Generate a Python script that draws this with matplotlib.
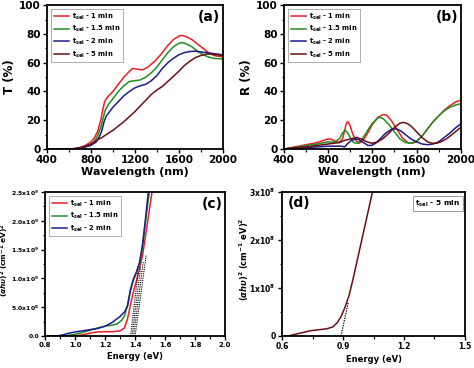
import matplotlib
matplotlib.use("Agg")
import matplotlib.pyplot as plt
from matplotlib.ticker import MultipleLocator, FuncFormatter

plt.rcParams['font.family'] = ['DejaVu Sans']
plt.rcParams['font.weight'] = 'bold'

labels = [r'$\mathbf{t_{sel}}$ - 1 min', r'$\mathbf{t_{sel}}$ - 1.5 min',
          r'$\mathbf{t_{sel}}$ - 2 min', r'$\mathbf{t_{sel}}$ - 5 min']
colors = ['#ee1d23', '#1f8f22', '#1b1b8a', '#6a0f16']

# ---------------- (a) Transmittance ----------------
ta_wl_1 = [400, 600, 650, 700, 750, 800, 830, 860, 890, 910, 925, 950, 1000, 1050, 1100, 1150, 1180, 1220,
           1270, 1320, 1380, 1440, 1500, 1550, 1600, 1630, 1670, 1720, 1770, 1820, 1870, 1920, 1960, 2000]
ta_T_1 = [0, 0, 0.3, 1, 2.5, 5, 7.5, 12, 20, 28, 33, 36, 40, 45, 50, 54, 56, 55.5,
          55, 57, 61, 66, 72, 76, 78.5, 79, 78, 76, 73, 70, 67, 65, 64.5, 64]
ta_wl_15 = [400, 600, 700, 750, 800, 830, 860, 890, 910, 930, 960, 1000, 1050, 1100, 1150, 1200, 1250, 1300,
            1350, 1400, 1450, 1500, 1550, 1600, 1630, 1670, 1720, 1770, 1820, 1870, 1920, 1960, 2000]
ta_T_15 = [0, 0, 0.5, 1.5, 3, 5, 9, 15, 21, 27, 31, 35, 40, 44, 47, 47.5, 48, 50,
           53, 57, 62, 67, 71, 73.5, 74, 73, 71, 68, 65.5, 64, 63, 62.8, 62.5]
ta_wl_2 = [400, 600, 700, 750, 800, 850, 880, 900, 920, 940, 970, 1000, 1050, 1100, 1150, 1200, 1250, 1300,
           1350, 1400, 1450, 1500, 1550, 1600, 1650, 1700, 1750, 1800, 1850, 1900, 1950, 2000]
ta_T_2 = [0, 0, 0.5, 1.5, 2.5, 5, 9, 13, 19, 23, 26, 29, 33, 37, 40, 42.5, 44, 45,
          47.5, 51, 56, 60, 63, 65.5, 67, 67.8, 68, 67.5, 67, 66.5, 66, 65.5]
ta_wl_5 = [400, 600, 650, 700, 750, 800, 850, 900, 950, 1000, 1050, 1100, 1150, 1200, 1250, 1300, 1350, 1400,
           1450, 1500, 1550, 1600, 1650, 1700, 1750, 1800, 1850, 1900, 1950, 2000]
ta_T_5 = [0, 0, 0.3, 1, 2, 3.5, 6, 8, 10.5, 13, 16, 19, 22.5, 26, 30, 34, 38, 41,
          43.5, 47, 50.5, 54, 58, 61, 63.5, 65, 66, 66, 65.5, 65]

# ---------------- (b) Reflectance ----------------
rb_wl_1 = [400, 500, 600, 700, 760, 800, 830, 860, 900, 930, 950, 965, 980, 1000, 1020, 1050, 1080, 1110, 1150,
           1200, 1250, 1300, 1330, 1370, 1420, 1470, 1520, 1560, 1600, 1650, 1700, 1750, 1800, 1850, 1900, 1950, 2000]
rb_R_1 = [0, 1.5, 3, 4.5, 6, 7, 6.8, 5.5, 4.5, 7, 13, 18, 19, 16, 11, 6, 4, 5.5, 10,
          17, 22, 24, 23.5, 20, 14, 8, 4.5, 4, 5, 9, 14, 19, 23, 27, 30, 32.5, 34]
rb_wl_15 = [400, 500, 600, 700, 800, 860, 900, 930, 950, 970, 1000, 1030, 1060, 1100, 1150, 1200, 1250, 1270,
            1300, 1350, 1400, 1450, 1500, 1550, 1600, 1650, 1700, 1750, 1800, 1850, 1900, 1950, 2000]
rb_R_15 = [0, 1, 2.5, 3.5, 5, 4.8, 7, 11, 13, 12, 8, 4.5, 4, 6, 12, 18, 21.5, 22,
           21, 17, 12, 7, 4.5, 4, 5.5, 9, 14, 19, 23, 26.5, 29, 30.5, 31.5]
rb_wl_2 = [400, 500, 600, 700, 800, 880, 920, 950, 980, 1010, 1050, 1080, 1120, 1160, 1190, 1230, 1270, 1320,
           1380, 1420, 1460, 1500, 1550, 1600, 1650, 1700, 1750, 1800, 1850, 1900, 1950, 2000]
rb_R_2 = [0, 0.5, 1, 1.5, 2, 2, 2, 1.5, 4, 6, 7, 6.5, 4.5, 2.5, 2.5, 4, 7, 11,
          14, 14, 12.5, 10, 7, 5, 3.5, 3, 3.5, 5, 8, 11, 14.5, 17.5]
rb_wl_5 = [400, 500, 600, 700, 800, 900, 950, 1000, 1060, 1100, 1150, 1200, 1250, 1300, 1350, 1400, 1450, 1480,
           1510, 1550, 1600, 1650, 1700, 1740, 1780, 1820, 1870, 1920, 1960, 2000]
rb_R_5 = [0, 1, 1.5, 2.5, 3.5, 4.5, 6, 7, 8, 7, 5, 4, 5, 7.5, 11, 15, 18, 18.5,
          18, 16, 12, 8, 5, 4, 4, 5, 7, 10, 12.5, 15]

# ---------------- (c) Tauc plots (units of 1e9) ----------------
tc_E_1 = [0.8, 0.9, 1.0, 1.05, 1.1, 1.15, 1.2, 1.25, 1.3, 1.33, 1.35, 1.37, 1.39, 1.41, 1.43, 1.45, 1.47, 1.49, 1.51, 1.53]
tc_y_1 = [0, 0, 0.005, 0.02, 0.05, 0.07, 0.075, 0.075, 0.09, 0.14, 0.3, 0.55, 0.78, 0.97, 1.18, 1.4, 1.75, 2.1, 2.45, 2.8]
tc_E_15 = [0.8, 0.9, 0.95, 1.0, 1.05, 1.1, 1.15, 1.2, 1.25, 1.28, 1.31, 1.33, 1.35, 1.37, 1.39, 1.41, 1.43, 1.45, 1.47, 1.49, 1.51]
tc_y_15 = [0, 0, 0.01, 0.03, 0.06, 0.1, 0.14, 0.17, 0.19, 0.21, 0.27, 0.35, 0.55, 0.82, 0.98, 1.1, 1.25, 1.55, 2.0, 2.4, 2.8]
tc_E_2 = [0.8, 0.88, 0.92, 0.96, 1.0, 1.05, 1.1, 1.15, 1.2, 1.25, 1.3, 1.33, 1.35, 1.37, 1.39, 1.41, 1.43, 1.45, 1.47, 1.49]
tc_y_2 = [0, 0, 0.02, 0.05, 0.07, 0.09, 0.11, 0.13, 0.17, 0.24, 0.34, 0.42, 0.52, 0.8, 1.0, 1.12, 1.28, 1.6, 2.05, 2.55]
tc_fit_Eg = [1.40, 1.39, 1.38, 1.37]
tc_fit_slope = [19.0, 20.0, 21.0, 22.0]
tc_fit_top = [1.4, 1.3, 1.2, 1.1]

# ---------------- (d) Tauc plot 5 min (units of 1e8) ----------------
td_E = [0.6, 0.63, 0.66, 0.7, 0.74, 0.78, 0.82, 0.85, 0.87, 0.89, 0.91, 0.93, 0.95, 1.0, 1.05]
td_y = [0, 0, 0.03, 0.07, 0.11, 0.13, 0.15, 0.19, 0.27, 0.4, 0.6, 0.85, 1.2, 2.15, 3.1]
td_fit_Eg = 0.89
td_fit_slope = 19.5
td_fit_top = 0.7

fig = plt.figure(figsize=(4.74, 3.68), dpi=100)
ax_a = fig.add_axes([0.099, 0.595, 0.371, 0.391])
ax_b = fig.add_axes([0.599, 0.595, 0.373, 0.391])
ax_c = fig.add_axes([0.095, 0.087, 0.380, 0.391])
ax_d = fig.add_axes([0.595, 0.087, 0.386, 0.391])

def style(ax, fs=7.5):
    for s in ax.spines.values():
        s.set_linewidth(1.3)
    ax.tick_params(which='major', direction='out', length=3, width=1, labelsize=fs, pad=1.5)
    ax.tick_params(which='minor', direction='out', length=1.8, width=0.8)
    for lab in ax.get_xticklabels() + ax.get_yticklabels():
        lab.set_fontweight('bold')

def legend(ax, fs):
    leg = ax.legend(loc='upper left', fontsize=fs, frameon=True, fancybox=False, edgecolor='#888888',
                    handlelength=2.3, borderpad=0.35, labelspacing=0.35, handletextpad=0.4,
                    bbox_to_anchor=(0.005, 0.995))
    leg.get_frame().set_linewidth(0.6)
    for t in leg.get_texts():
        t.set_fontweight('bold')

lw = 1.1
for ax, xs, ys in [(ax_a, [ta_wl_1, ta_wl_15, ta_wl_2, ta_wl_5], [ta_T_1, ta_T_15, ta_T_2, ta_T_5]),
                   (ax_b, [rb_wl_1, rb_wl_15, rb_wl_2, rb_wl_5], [rb_R_1, rb_R_15, rb_R_2, rb_R_5])]:
    for x, y, c, l in zip(xs, ys, colors, labels):
        ax.plot(x, y, color=c, lw=lw, label=l)
    ax.set_xlim(400, 2000)
    ax.set_ylim(0, 100)
    ax.xaxis.set_major_locator(MultipleLocator(400))
    ax.xaxis.set_minor_locator(MultipleLocator(200))
    ax.yaxis.set_major_locator(MultipleLocator(20))
    ax.yaxis.set_minor_locator(MultipleLocator(10))
    ax.set_xlabel('Wavelength (nm)', fontsize=8, fontweight='bold', labelpad=1)
    legend(ax, 4.9)
    style(ax)

ax_a.set_ylabel('T (%)', fontsize=8.5, fontweight='bold', labelpad=2)
ax_b.set_ylabel('R (%)', fontsize=8.5, fontweight='bold', labelpad=2)
ax_a.text(0.985, 0.965, '(a)', transform=ax_a.transAxes, ha='right', va='top', fontsize=10, fontweight='bold')
ax_b.text(0.985, 0.965, '(b)', transform=ax_b.transAxes, ha='right', va='top', fontsize=10, fontweight='bold')

# (c)
for x, y, c, l in zip([tc_E_1, tc_E_15, tc_E_2], [tc_y_1, tc_y_15, tc_y_2], colors[:3], labels[:3]):
    ax_c.plot(x, y, color=c, lw=lw, label=l)
for eg, sl, top in zip(tc_fit_Eg, tc_fit_slope, tc_fit_top):
    ax_c.plot([eg, eg + top / sl], [0, top], color='black', ls=(0, (1, 1)), lw=0.8)
ax_c.set_xlim(0.8, 2.0)
ax_c.set_ylim(0, 2.5)
ax_c.xaxis.set_major_locator(MultipleLocator(0.2))
ax_c.xaxis.set_minor_locator(MultipleLocator(0.1))
ax_c.yaxis.set_major_locator(MultipleLocator(0.5))
ax_c.yaxis.set_minor_locator(MultipleLocator(0.25))

def cfmt(v, pos):
    if abs(v) < 1e-9:
        return '0.0'
    if v < 1:
        return r'%.1fx10$^{8}$' % (v * 10)
    return r'%.1fx10$^{9}$' % v
ax_c.yaxis.set_major_formatter(FuncFormatter(cfmt))
ax_c.xaxis.set_major_formatter(FuncFormatter(lambda v, p: '%.1f' % v))
ax_c.set_xlabel('Energy (eV)', fontsize=6, fontweight='bold', labelpad=3)
ax_c.set_ylabel(r'$(\alpha h\upsilon)^2$ $\mathbf{(cm^{-1}\ eV)^2}$', fontsize=5.3)
ax_c.yaxis.set_label_coords(-0.19, 0.53)
legend(ax_c, 4.9)
style(ax_c, fs=4.4)
ax_c.tick_params(axis='y', pad=1)
ax_c.tick_params(axis='x', labelsize=5)
ax_c.text(0.985, 0.965, '(c)', transform=ax_c.transAxes, ha='right', va='top', fontsize=10, fontweight='bold')

# (d)
ax_d.plot(td_E, td_y, color=colors[3], lw=lw)
ax_d.plot([td_fit_Eg, td_fit_Eg + td_fit_top / td_fit_slope], [0, td_fit_top], color='black', ls=(0, (1, 1)), lw=0.9)
ax_d.set_xlim(0.6, 1.5)
ax_d.set_ylim(0, 3)
ax_d.xaxis.set_major_locator(MultipleLocator(0.3))
ax_d.xaxis.set_minor_locator(MultipleLocator(0.15))
ax_d.yaxis.set_major_locator(MultipleLocator(1))
ax_d.yaxis.set_minor_locator(MultipleLocator(0.5))
ax_d.yaxis.set_major_formatter(FuncFormatter(lambda v, p: '0' if abs(v) < 1e-9 else r'%dx10$^{8}$' % round(v)))
ax_d.xaxis.set_major_formatter(FuncFormatter(lambda v, p: '%.1f' % v))
ax_d.set_xlabel('Energy (eV)', fontsize=6, fontweight='bold', labelpad=3)
ax_d.set_ylabel(r'$(\alpha h\upsilon)^2$ $\mathbf{(cm^{-1}\ eV)^2}$', fontsize=6)
ax_d.yaxis.set_label_coords(-0.17, 0.53)
style(ax_d, fs=5.5)
ax_d.text(0.03, 0.975, '(d)', transform=ax_d.transAxes, ha='left', va='top', fontsize=10, fontweight='bold')
ax_d.text(0.975, 0.955, r'$\mathbf{t_{sel}}$ - 5 min', transform=ax_d.transAxes, ha='right', va='top',
          fontsize=5.3, fontweight='bold',
          bbox=dict(boxstyle='square,pad=0.35', fc='white', ec='#888888', lw=0.6))

fig.savefig('out.png', dpi=100)
